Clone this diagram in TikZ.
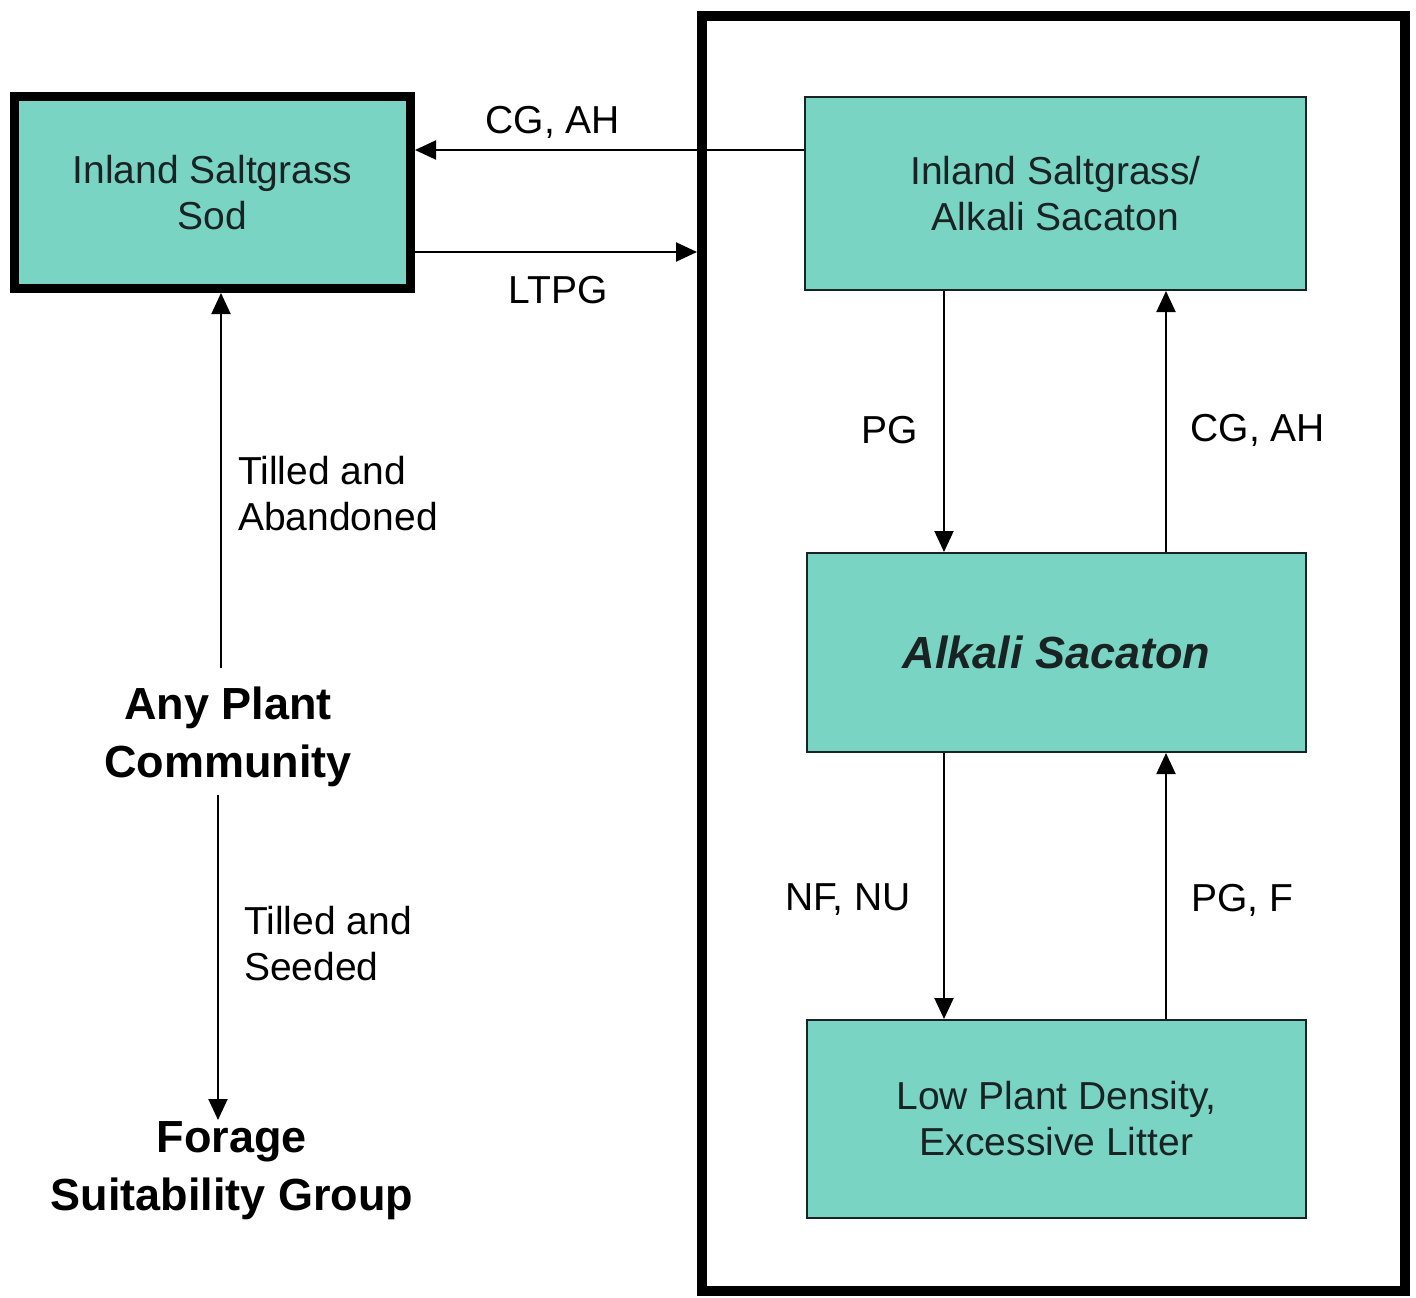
\documentclass[tikz,border=0pt]{standalone}
\usepackage{fontspec}
\setmainfont{Liberation Sans}
\usetikzlibrary{arrows.meta}
\definecolor{teal1}{RGB}{122,212,196}
\definecolor{edge}{RGB}{25,35,35}
\tikzset{
  statebox/.style={draw=edge, line width=2pt, fill=teal1, inner sep=0pt, align=center,
    font=\fontsize{39}{46}\selectfont, text=edge},
  arr/.style={line width=2pt, -{Triangle[length=21pt,width=19pt]}},
  lbl/.style={font=\fontsize{39}{46}\selectfont, align=center, inner sep=0pt},
  bold/.style={font=\fontsize{45}{58}\selectfont\bfseries, align=center, inner sep=0pt},
}
\begin{document}
\begin{tikzpicture}[x=1pt,y=-1pt]
\useasboundingbox (0,0) rectangle (1416,1298);
% outer state frame
\node[draw, line width=10pt, minimum width=703pt, minimum height=1275pt, inner sep=0pt] (frame) at (1053.5,653.5) {};
% boxes
\node[statebox, draw=black, line width=9pt, minimum width=396pt, minimum height=192pt] (sod) at (212.5,192.5) {Inland Saltgrass\\Sod};
\node[statebox, minimum width=501pt, minimum height=193pt] (A) at (1055.5,193.5) {Inland Saltgrass/\\Alkali Sacaton};
\node[statebox, minimum width=499pt, minimum height=199pt, font=\fontsize{45}{52}\selectfont\bfseries\itshape] (B) at (1056.5,652.5) {Alkali Sacaton};
\node[statebox, minimum width=499pt, minimum height=198pt] (C) at (1056.5,1119) {Low Plant Density,\\Excessive Litter};
% free-standing texts
\node[bold] (any) at (228,737) {Any Plant\\Community};
\node[bold] (forage) at (232,1171) {Forage\\Suitability Group};
% helper coordinates
\coordinate (y150) at (0,150);
\coordinate (y252) at (0,252);
\coordinate (x221) at (221,0);
\coordinate (x218) at (218,0);
\coordinate (x944) at (944,0);
\coordinate (x1166) at (1166,0);
\coordinate (anyTop) at (221,668);
\coordinate (anyBot) at (218,795);
\coordinate (forTop) at (218,1120);
% connectors
\draw[arr] (A.west |- y150) -- (sod.east |- y150);
\draw[arr] (sod.east |- y252) -- (frame.west |- y252);
\draw[arr] (anyTop) -- (sod.south -| x221);
\draw[arr] (anyBot) -- (forTop);
\draw[arr] (A.south -| x944) -- (B.north -| x944);
\draw[arr] (B.north -| x1166) -- (A.south -| x1166);
\draw[arr] (B.south -| x944) -- (C.north -| x944);
\draw[arr] (C.north -| x1166) -- (B.south -| x1166);
% labels
\node[lbl] (l1) at (553,122) {CG, AH};
\node[lbl] (l2) at (558,290) {LTPG};
\node[lbl, align=left, anchor=west] (l3) at (238,494) {Tilled and\\Abandoned};
\node[lbl, align=left, anchor=west] (l4) at (244,944) {Tilled and\\Seeded};
\node[lbl] (l5) at (890,430) {PG};
\node[lbl] (l6) at (1258,430) {CG, AH};
\node[lbl] (l7) at (848,900) {NF, NU};
\node[lbl] (l8) at (1242,900) {PG, F};
\end{tikzpicture}
\end{document}
